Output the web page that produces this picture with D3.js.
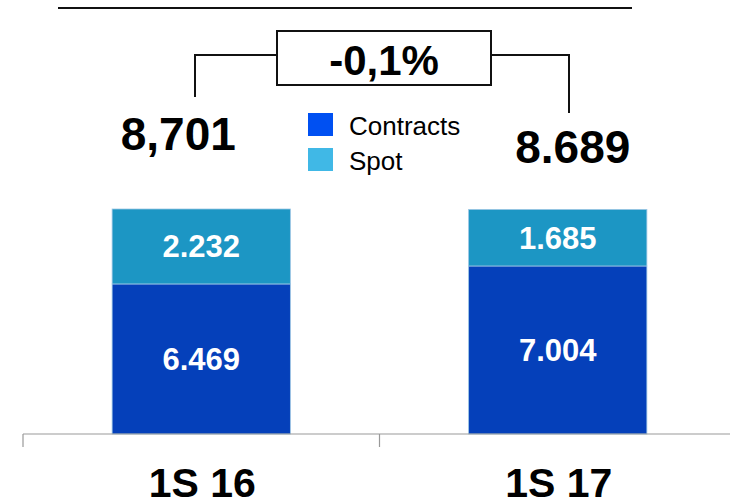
<!DOCTYPE html>
<html>
<head>
<meta charset="utf-8">
<script src="https://cdn.jsdelivr.net/npm/d3@7"></script>
<style>
  html, body { margin: 0; padding: 0; background: #fff; }
  svg { display: block; font-family: "Liberation Sans", Arial, sans-serif; }
</style>
</head>
<body>
<div id="chart"></div>
<script>
// chart data
var categories = ["1S 16", "1S 17"];
var contracts = [6469, 7004];
var spot = [2232, 1685];
var contractLabels = ["6.469", "7.004"];
var spotLabels = ["2.232", "1.685"];
var totalLabels = ["8,701", "8.689"];
var changeLabel = "-0,1%";
var seriesNames = ["Contracts", "Spot"];

var width = 730, height = 504;
var barColors = { Contracts: "#0540ba", Spot: "#1c96c4" };
var legendColors = { Contracts: "#0050f2", Spot: "#40b8e6" };

var svg = d3.select("#chart").append("svg")
    .attr("width", width)
    .attr("height", height);

// stack the two series
var rows = categories.map(function (c, i) {
  return { cat: c, Contracts: contracts[i], Spot: spot[i] };
});
var stacked = d3.stack().keys(seriesNames)(rows);

var x = d3.scaleBand()
    .domain(categories)
    .range([23, 736])
    .paddingInner(0.5)
    .paddingOuter(0.25);

// value axis does not start at zero in the original
var y = d3.scaleLinear()
    .domain([2000, d3.max(rows, function (d) { return d.Contracts + d.Spot; })])
    .range([434, 209]);

function segBottom(d) { return d[0] === 0 ? y.range()[0] : y(d[0]); }

// top rule
svg.append("line")
    .attr("x1", 58).attr("x2", 632)
    .attr("y1", 8).attr("y2", 8)
    .attr("stroke", "#111").attr("stroke-width", 2);

// bars
var layers = svg.selectAll("g.layer")
  .data(stacked)
  .enter().append("g")
    .attr("class", "layer")
    .attr("fill", function (s) { return barColors[s.key]; });

layers.selectAll("rect")
  .data(function (s) { return s; })
  .enter().append("rect")
    .attr("x", function (d) { return x(d.data.cat); })
    .attr("width", x.bandwidth())
    .attr("y", function (d) { return y(d[1]); })
    .attr("height", function (d) { return segBottom(d) - y(d[1]); })
    .attr("stroke", "#9cc6e4")
    .attr("stroke-width", 0.8);

// segment labels
var segLabels = { Contracts: contractLabels, Spot: spotLabels };
layers.selectAll("text")
  .data(function (s) { return s.map(function (d, i) { return { d: d, txt: segLabels[s.key][i] }; }); })
  .enter().append("text")
    .attr("x", function (o) { return x(o.d.data.cat) + x.bandwidth() / 2; })
    .attr("y", function (o) { return (y(o.d[1]) + segBottom(o.d)) / 2 + 11; })
    .attr("text-anchor", "middle")
    .attr("fill", "#fff")
    .attr("font-weight", "bold")
    .attr("font-size", 31)
    .text(function (o) { return o.txt; });

// category axis
var axis = svg.append("g").attr("transform", "translate(0,434)");
axis.append("line")
    .attr("x1", 23).attr("x2", 736)
    .attr("stroke", "#999").attr("stroke-width", 1.2);
axis.selectAll("line.tick")
  .data(categories)
  .enter().append("line")
    .attr("class", "tick")
    .attr("x1", function (c) { return x(c) - x.step() * x.paddingInner() / 2; })
    .attr("x2", function (c) { return x(c) - x.step() * x.paddingInner() / 2; })
    .attr("y1", 0).attr("y2", 13)
    .attr("stroke", "#999").attr("stroke-width", 1.2);
axis.selectAll("text")
  .data(categories)
  .enter().append("text")
    .attr("x", function (c) { return x(c) + x.bandwidth() / 2 + 1; })
    .attr("y", 63)
    .attr("text-anchor", "middle")
    .attr("font-weight", "bold")
    .attr("font-size", 41)
    .attr("fill", "#000")
    .text(function (c) { return c; });

// totals above bars
var totalY = [150, 163];
svg.selectAll("text.total")
  .data(categories)
  .enter().append("text")
    .attr("class", "total")
    .attr("x", function (c, i) { return x(c) + x.bandwidth() / 2 + (i === 0 ? -23 : 15); })
    .attr("y", function (c, i) { return totalY[i]; })
    .attr("text-anchor", "middle")
    .attr("font-weight", "bold")
    .attr("font-size", 46)
    .attr("fill", "#000")
    .text(function (c, i) { return totalLabels[i]; });

// change bracket
var lx = 195, rx = 569, by = 55;
var bracket = svg.append("g").attr("stroke", "#111").attr("stroke-width", 2).attr("fill", "none");
bracket.append("path").attr("d", "M" + lx + ",97V" + by + "H277");
bracket.append("path").attr("d", "M491," + by + "H" + rx + "V113");
bracket.append("rect")
    .attr("x", 277).attr("y", 31)
    .attr("width", 214).attr("height", 54);
svg.append("text")
    .attr("x", 384).attr("y", 75)
    .attr("text-anchor", "middle")
    .attr("font-weight", "bold")
    .attr("font-size", 42)
    .text(changeLabel);

// legend
var legend = svg.selectAll("g.legend")
  .data(seriesNames)
  .enter().append("g")
    .attr("class", "legend")
    .attr("transform", function (d, i) { return "translate(308," + (113 + i * 35) + ")"; });
legend.append("rect")
    .attr("width", 25).attr("height", 23)
    .attr("fill", function (d) { return legendColors[d]; });
legend.append("text")
    .attr("x", 41).attr("y", 22)
    .attr("font-size", 26)
    .attr("fill", "#000")
    .text(function (d) { return d; });
</script>
</body>
</html>
